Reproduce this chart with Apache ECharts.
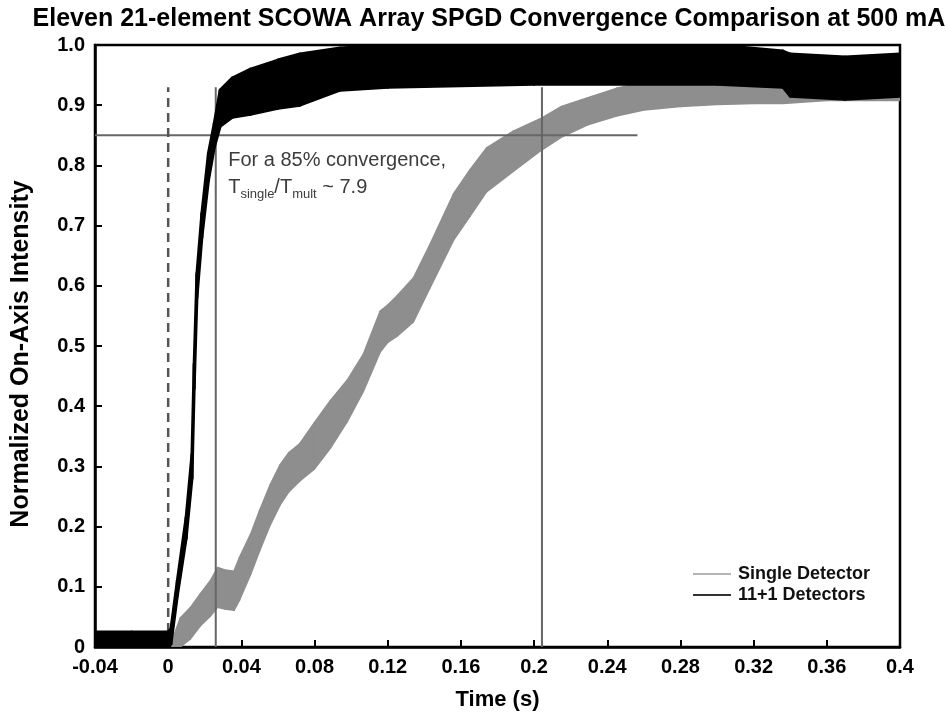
<!DOCTYPE html>
<html><head><meta charset="utf-8">
<script src="https://cdn.jsdelivr.net/npm/echarts@6/dist/echarts.min.js"></script>
<style>html,body{margin:0;padding:0;background:#fff}#c{width:947px;height:716px}</style>
</head><body><div id="c"></div>
<script>
// ---- data ----
const xTickMin = -0.04, xTickMax = 0.4, xTickStep = 0.04;
const yTickMin = 0, yTickMax = 1.0, yTickStep = 0.1;

// Single Detector: noisy band (lower / upper envelope)
const singleTime = [0.002, 0.0066, 0.012, 0.0175, 0.023, 0.027, 0.031, 0.036, 0.039, 0.045, 0.050, 0.0558, 0.0612, 0.066, 0.072, 0.080, 0.0886, 0.0978, 0.1066, 0.1159, 0.120, 0.125, 0.134, 0.143, 0.156, 0.165, 0.174, 0.1886, 0.2043, 0.215, 0.229, 0.245, 0.260, 0.280, 0.300, 0.320, 0.336, 0.360, 0.400];
const singleLow  = [0.000, 0.000, 0.013, 0.035, 0.051, 0.066, 0.063, 0.061, 0.078, 0.120, 0.160, 0.203, 0.236, 0.258, 0.276, 0.296, 0.330, 0.374, 0.424, 0.490, 0.506, 0.516, 0.540, 0.596, 0.676, 0.716, 0.756, 0.790, 0.826, 0.847, 0.867, 0.882, 0.892, 0.898, 0.901, 0.903, 0.903, 0.908, 0.908];
const singleHigh = [0.010, 0.048, 0.065, 0.088, 0.110, 0.132, 0.128, 0.126, 0.149, 0.187, 0.227, 0.270, 0.303, 0.323, 0.338, 0.373, 0.409, 0.443, 0.486, 0.558, 0.568, 0.583, 0.613, 0.668, 0.753, 0.793, 0.829, 0.857, 0.879, 0.898, 0.912, 0.928, 0.938, 0.942, 0.947, 0.950, 0.952, 0.952, 0.952];

// 11+1 Detectors: noisy band (lower / upper envelope)
const multiTime = [-0.040, -0.020, 0.000, 0.0015, 0.005, 0.0098, 0.013, 0.0142, 0.0157, 0.0184, 0.022, 0.0252, 0.0284, 0.035, 0.045, 0.060, 0.072, 0.094, 0.120, 0.200, 0.300, 0.336, 0.340, 0.370, 0.400];
const multiLow  = [0.000, 0.000, 0.000, 0.005, 0.085, 0.180, 0.280, 0.430, 0.580, 0.680, 0.775, 0.830, 0.865, 0.880, 0.885, 0.895, 0.900, 0.925, 0.930, 0.935, 0.935, 0.930, 0.915, 0.910, 0.915];
const multiHigh = [0.025, 0.025, 0.025, 0.030, 0.110, 0.215, 0.320, 0.470, 0.620, 0.720, 0.820, 0.870, 0.925, 0.945, 0.960, 0.975, 0.985, 0.995, 1.000, 1.000, 1.000, 0.990, 0.985, 0.980, 0.985];

// reference lines
const level85 = [[-0.04, 0.85], [0.2565, 0.85]];
const markMulti = [[0.026, 0], [0.026, 0.93]];
const markSingle = [[0.2043, 0], [0.2043, 0.93]];
const markStart = [[0, 0], [0, 0.93]];

const seriesNames = ['Single Detector', '11+1 Detectors'];
const titleText = 'Eleven 21-element SCOWA Array SPGD Convergence Comparison at 500 mA';
const annotationLine1 = 'For a 85% convergence,';
const annotationAnchor = [0.0328, 0.83];

// ---- chart ----
const FONT = '"Liberation Sans", Arial, sans-serif';
function bandData(t, lo, hi) {
  const d = [];
  for (let i = 0; i < t.length - 1; i++) d.push([t[i], lo[i], hi[i], t[i + 1], lo[i + 1], hi[i + 1]]);
  return d;
}
function bandSeries(name, t, lo, hi, color, stroke, z) {
  return {
    type: 'custom', name: name, z: z, clip: true, silent: true,
    data: bandData(t, lo, hi),
    encode: { x: [0, 3], y: [1, 2, 4, 5] },
    itemStyle: { color: color },
    renderItem: function (params, api) {
      const a = api.coord([api.value(0), api.value(1)]);
      const b = api.coord([api.value(3), api.value(4)]);
      const c = api.coord([api.value(3), api.value(5)]);
      const d = api.coord([api.value(0), api.value(2)]);
      return { type: 'polygon', shape: { points: [a, b, c, d] }, style: { fill: color, stroke: color, lineWidth: stroke, lineJoin: 'round' } };
    }
  };
}
function refLine(data, dashed, z) {
  return {
    type: 'line', data: data, z: z, silent: true, symbol: 'none', animation: false,
    lineStyle: dashed ? { color: '#555', width: 2.5, type: [9, 6] } : { color: '#666', width: 2, type: 'solid' }
  };
}

const chart = echarts.init(document.getElementById('c'));
chart.setOption({
  animation: false,
  backgroundColor: '#fff',
  title: {
    text: titleText, left: 484, top: 2, textAlign: 'center',
    textStyle: { fontFamily: FONT, fontWeight: 'bold', fontSize: 25, color: '#000' }
  },
  grid: { left: 95, right: 47, top: 45, bottom: 68, show: true, borderColor: '#000', borderWidth: 2.5, containLabel: false },
  legend: {
    orient: 'vertical', left: 688, top: 560, itemGap: 3, itemWidth: 38, itemHeight: 2, icon: 'rect',
    selectedMode: false,
    textStyle: { fontFamily: FONT, fontWeight: 'bold', fontSize: 18, color: '#111', padding: [0, 0, 0, 2] },
    data: [
      { name: seriesNames[0], itemStyle: { color: '#b5b5b5' } },
      { name: seriesNames[1], itemStyle: { color: '#333' } }
    ]
  },
  xAxis: {
    type: 'value', min: xTickMin, max: xTickMax, interval: xTickStep,
    name: 'Time (s)', nameLocation: 'middle', nameGap: 42,
    nameTextStyle: { fontFamily: FONT, fontWeight: 'bold', fontSize: 22, color: '#000' },
    axisLine: { show: true, onZero: false, lineStyle: { color: '#000', width: 2.5 } },
    axisTick: { show: true, inside: true, length: 7, lineStyle: { color: '#000', width: 2 } },
    splitLine: { show: false },
    axisLabel: { fontFamily: FONT, fontWeight: 'bold', fontSize: 20, color: '#000', margin: 10,
      formatter: v => String(Number(v.toFixed(2))) }
  },
  yAxis: {
    type: 'value', min: yTickMin, max: yTickMax, interval: yTickStep,
    name: 'Normalized On-Axis Intensity', nameLocation: 'middle', nameGap: 61, nameRotate: 90,
    nameTextStyle: { fontFamily: FONT, fontWeight: 'bold', fontSize: 25, color: '#000', padding: [0, 16, 0, 0] },
    axisLine: { show: true, onZero: false, lineStyle: { color: '#000', width: 2.5 } },
    axisTick: { show: true, inside: true, length: 7, lineStyle: { color: '#000', width: 2 } },
    splitLine: { show: false },
    axisLabel: { fontFamily: FONT, fontWeight: 'bold', fontSize: 20, color: '#000', margin: 10,
      formatter: v => (Math.abs(v) < 1e-9 ? '0' : v.toFixed(1)) }
  },
  series: [
    bandSeries(seriesNames[0], singleTime, singleLow, singleHigh, '#8e8e8e', 1.5, 2),
    refLine(level85, false, 3),
    refLine(markMulti, false, 3),
    refLine(markSingle, false, 3),
    refLine(markStart, true, 3),
    bandSeries(seriesNames[1], multiTime, multiLow, multiHigh, '#000', 3, 4)
  ]
});

const p = chart.convertToPixel({ gridIndex: 0 }, annotationAnchor);
chart.setOption({
  graphic: [{
    type: 'text', x: p[0], y: p[1], z: 10, silent: true,
    style: {
      text: annotationLine1 + '\n{b|T}{s|single}{b|/T}{s|mult}{b| ~ 7.9}',
      fill: '#3c3c3c', font: '20px ' + FONT, textVerticalAlign: 'top', lineHeight: 27,
      rich: {
        b: { fontSize: 20, fontFamily: FONT, fill: '#3c3c3c', lineHeight: 27, verticalAlign: 'middle' },
        s: { fontSize: 13, fontFamily: FONT, fill: '#3c3c3c', lineHeight: 27, verticalAlign: 'bottom' }
      }
    }
  }]
});
</script>
</body></html>
